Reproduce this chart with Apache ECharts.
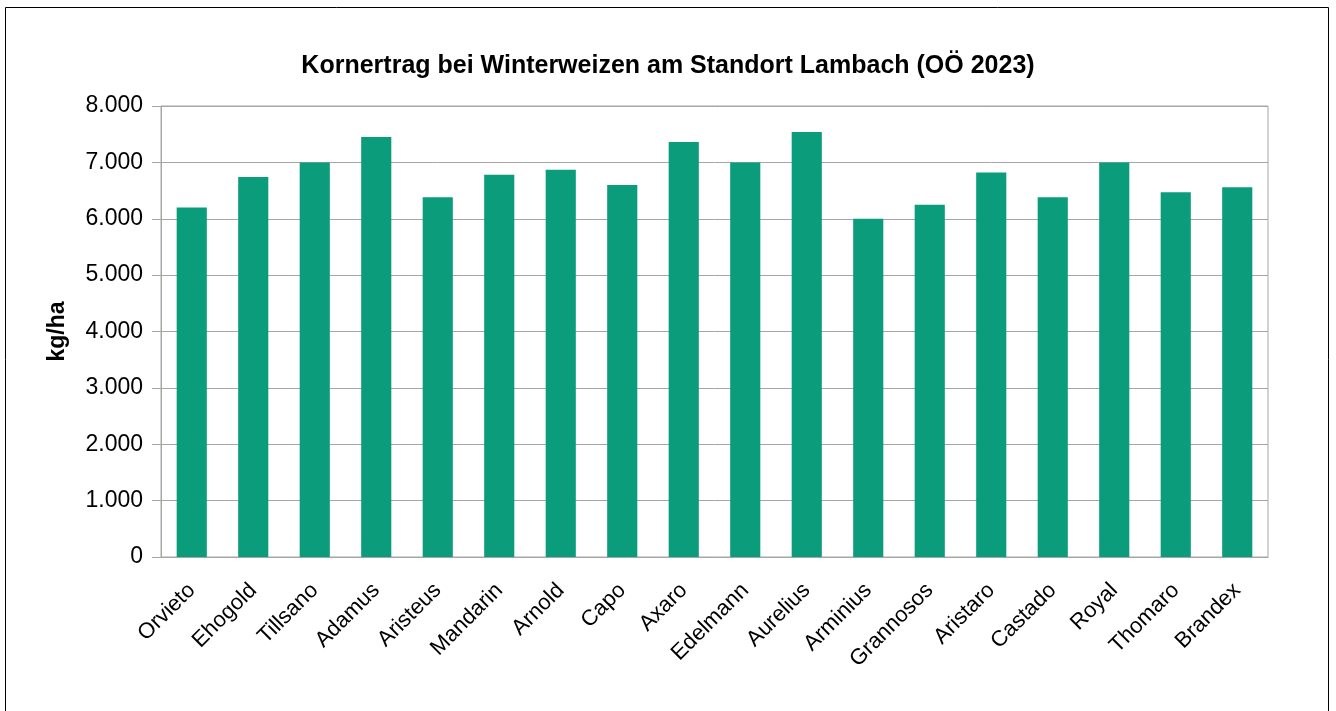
<!DOCTYPE html>
<html>
<head>
<meta charset="utf-8">
<script src="https://cdn.jsdelivr.net/npm/echarts@6/dist/echarts.min.js"></script>
<style>
  html, body { margin: 0; padding: 0; background: #fff; overflow: hidden; }
  #chart { width: 1336px; height: 711px; }
</style>
</head>
<body>
<div id="chart"></div>
<script>
// Sorten und Kornertrag (kg/ha)
var sorten = ['Orvieto', 'Ehogold', 'Tillsano', 'Adamus', 'Aristeus', 'Mandarin', 'Arnold', 'Capo', 'Axaro',
  'Edelmann', 'Aurelius', 'Arminius', 'Grannosos', 'Aristaro', 'Castado', 'Royal', 'Thomaro', 'Brandex']
var ertrag = [6200, 6740, 7000, 7450, 6380, 6780, 6870, 6600, 7360,
  7000, 7540, 6000, 6250, 6820, 6380, 7000, 6470, 6560]

var font = 'Liberation Sans, Arial, Helvetica, sans-serif'
var grau = '#a6a6a6'

var myChart = echarts.init(document.getElementById('chart'))
myChart.setOption({
  animation: false,
  textStyle: { fontFamily: font },
  title: {
    text: 'Kornertrag bei Winterweizen am Standort Lambach (OÖ 2023)',
    left: 'center',
    top: 49,
    textStyle: { fontSize: 25, fontWeight: 'bold', color: '#000', fontFamily: font }
  },
  graphic: [{
    type: 'rect',
    shape: { x: 5.5, y: 7.5, width: 1323, height: 720 },
    style: { fill: 'none', stroke: '#000', lineWidth: 1 },
    silent: true
  }],
  grid: {
    left: 161, right: 68, top: 106, bottom: 154,
    show: true, borderColor: grau, borderWidth: 1
  },
  xAxis: {
    type: 'category',
    data: sorten,
    axisLine: { lineStyle: { color: grau } },
    axisTick: { show: false },
    axisLabel: { rotate: 45, interval: 0, fontSize: 22, color: '#000', margin: 30, fontFamily: font }
  },
  yAxis: {
    type: 'value',
    min: 0, max: 8000, interval: 1000,
    name: 'kg/ha',
    nameLocation: 'middle',
    nameGap: 92,
    nameTextStyle: { fontSize: 23, fontWeight: 'bold', color: '#000', fontFamily: font },
    axisLine: { show: true, lineStyle: { color: grau } },
    axisTick: { show: true, length: 9, lineStyle: { color: grau } },
    splitLine: { lineStyle: { color: grau } },
    axisLabel: {
      fontSize: 23, color: '#000', margin: 18, fontFamily: font,
      formatter: function (v) { return v === 0 ? '0' : v.toLocaleString('de-DE') }
    }
  },
  series: [{
    type: 'bar',
    data: ertrag,
    barWidth: '49%',
    itemStyle: { color: '#0b9d7b' }
  }]
})
</script>
</body>
</html>
